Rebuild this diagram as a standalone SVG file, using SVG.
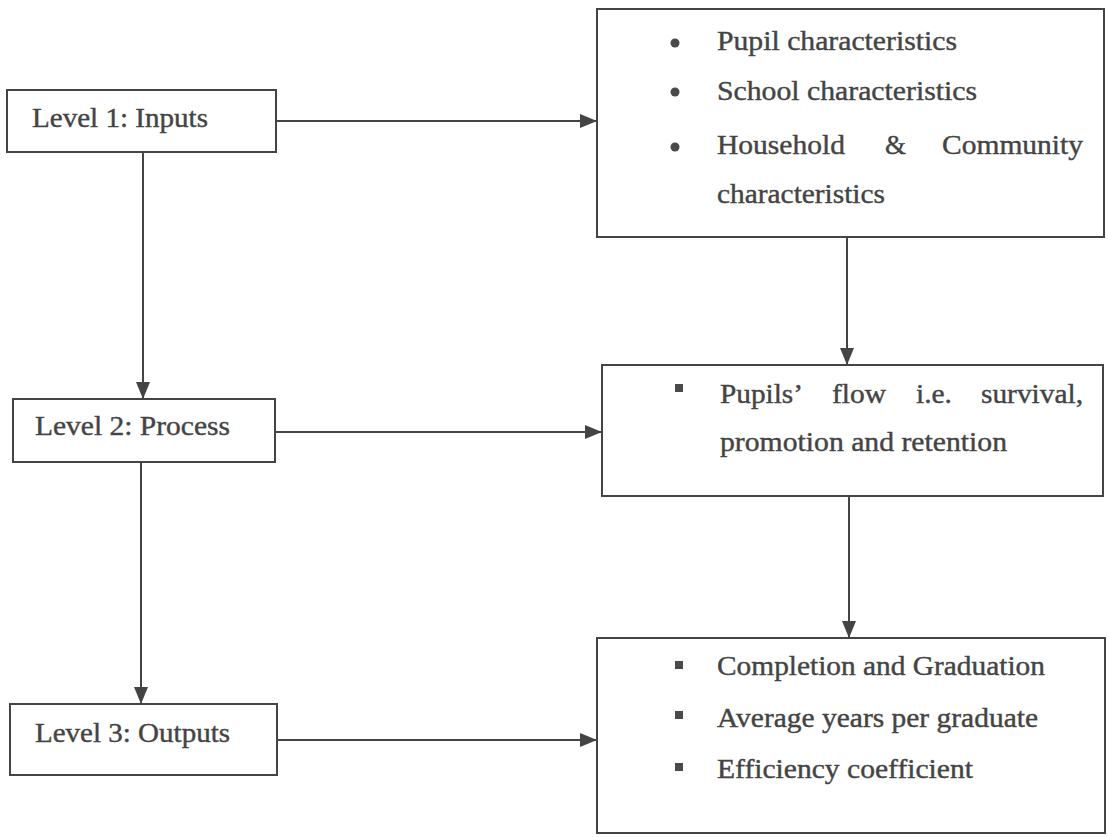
<svg xmlns="http://www.w3.org/2000/svg" width="1108" height="837" viewBox="0 0 1108 837">
<style>
.box{fill:none;stroke:#444;stroke-width:2}
.t{font-family:"Liberation Serif","Times New Roman",serif;font-size:27px;fill:#444;stroke:#444;stroke-width:0.4}
.ln{stroke:#444;stroke-width:2;fill:none;marker-end:url(#ah)}
.dot{fill:#4a4a4a}
</style>
<defs>
<marker id="ah" markerUnits="userSpaceOnUse" markerWidth="18" markerHeight="14" refX="17" refY="7" orient="auto">
<path d="M0,0 L17,7 L0,14 Z" fill="#444"/>
</marker>
</defs>
<rect width="1108" height="837" fill="#fff"/>
<g id="connectors">
<line class="ln" x1="276" y1="121" x2="597" y2="121"/>
<line class="ln" x1="275" y1="432" x2="602" y2="432"/>
<line class="ln" x1="277" y1="740" x2="597" y2="740"/>
<line class="ln" x1="143" y1="152" x2="143" y2="399"/>
<line class="ln" x1="141" y1="462" x2="141" y2="704"/>
<line class="ln" x1="847" y1="237" x2="847" y2="365"/>
<line class="ln" x1="849" y1="496" x2="849" y2="638"/>
</g>
<g id="level1">
<rect class="box" x="7" y="90" width="269" height="62"/>
<text class="t" x="32" y="127" textLength="176" lengthAdjust="spacingAndGlyphs">Level 1: Inputs</text>
</g>
<g id="level2">
<rect class="box" x="13" y="399" width="262" height="63"/>
<text class="t" x="35" y="435" textLength="195" lengthAdjust="spacingAndGlyphs">Level 2: Process</text>
</g>
<g id="level3">
<rect class="box" x="10" y="704" width="267" height="71"/>
<text class="t" x="35" y="742" textLength="195" lengthAdjust="spacingAndGlyphs">Level 3: Outputs</text>
</g>
<g id="inputs">
<rect class="box" x="597" y="9" width="507" height="228"/>
<circle class="dot" cx="675" cy="43" r="4.5"/>
<circle class="dot" cx="675" cy="92" r="4.5"/>
<circle class="dot" cx="675" cy="147" r="4.5"/>
<text class="t" x="717" y="50" textLength="240" lengthAdjust="spacingAndGlyphs">Pupil characteristics</text>
<text class="t" x="717" y="100" textLength="260" lengthAdjust="spacingAndGlyphs">School characteristics</text>
<text class="t" x="717" y="154" textLength="128" lengthAdjust="spacingAndGlyphs">Household</text>
<text class="t" x="885" y="154" textLength="21" lengthAdjust="spacingAndGlyphs">&amp;</text>
<text class="t" x="942" y="154" textLength="141" lengthAdjust="spacingAndGlyphs">Community</text>
<text class="t" x="717" y="203" textLength="168" lengthAdjust="spacingAndGlyphs">characteristics</text>
</g>
<g id="process">
<rect class="box" x="602" y="365" width="501" height="131"/>
<rect class="dot" x="675" y="384" width="8" height="8"/>
<text class="t" x="720" y="403" textLength="83" lengthAdjust="spacingAndGlyphs">Pupils’</text>
<text class="t" x="832" y="403" textLength="54" lengthAdjust="spacingAndGlyphs">flow</text>
<text class="t" x="916" y="403" textLength="36" lengthAdjust="spacingAndGlyphs">i.e.</text>
<text class="t" x="981" y="403" textLength="102" lengthAdjust="spacingAndGlyphs">survival,</text>
<text class="t" x="720" y="451" textLength="287" lengthAdjust="spacingAndGlyphs">promotion and retention</text>
</g>
<g id="outputs">
<rect class="box" x="597" y="638" width="508" height="195"/>
<rect class="dot" x="675" y="661" width="8" height="8"/>
<rect class="dot" x="675" y="711" width="8" height="8"/>
<rect class="dot" x="675" y="763" width="8" height="8"/>
<text class="t" x="717" y="675" textLength="328" lengthAdjust="spacingAndGlyphs">Completion and Graduation</text>
<text class="t" x="717" y="727" textLength="321" lengthAdjust="spacingAndGlyphs">Average years per graduate</text>
<text class="t" x="717" y="778" textLength="256" lengthAdjust="spacingAndGlyphs">Efficiency coefficient</text>
</g>
</svg>
